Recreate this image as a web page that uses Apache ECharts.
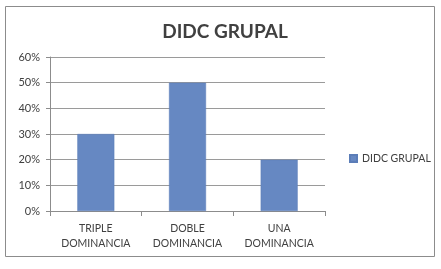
<!DOCTYPE html>
<html><head><meta charset="utf-8">
<script src="https://cdn.jsdelivr.net/npm/echarts@6/dist/echarts.min.js"></script>
<style>html,body{margin:0;padding:0;background:#fff}#c{width:441px;height:269px}</style>
</head><body><div id="c"></div>
<script>
const categories = ['TRIPLE\nDOMINANCIA', 'DOBLE\nDOMINANCIA', 'UNA\nDOMINANCIA'];
const values = [0.30, 0.50, 0.20];
const seriesName = 'DIDC GRUPAL';
const titleText = 'DIDC GRUPAL';

const chart = echarts.init(document.getElementById('c'), null, {renderer: 'canvas'});
chart.setOption({
  animation: false,
  backgroundColor: '#fff',
  graphic: [{type: 'rect', shape: {x: 5.5, y: 6.5, width: 429, height: 250}, style: {fill: 'none', stroke: '#8c8c8c', lineWidth: 1}}],
  title: {text: titleText, left: 220, top: 17, textAlign: 'center',
    textStyle: {fontFamily: 'Lato', fontWeight: 'bold', fontSize: 19, color: '#404040'}},
  legend: {data: [seriesName], left: 344, top: 148, itemWidth: 7, itemHeight: 7, itemGap: 4,
    icon: 'rect', textStyle: {fontFamily: 'Lato', fontSize: 10.5, color: '#404040'}},
  grid: {left: 50, right: 116, top: 57, bottom: 58},
  xAxis: {type: 'category', data: categories,
    axisLine: {lineStyle: {color: '#8c8c8c'}},
    axisTick: {show: true, alignWithLabel: false, length: 5, lineStyle: {color: '#8c8c8c'}},
    axisLabel: {fontFamily: 'Lato', fontSize: 10.5, color: '#404040', margin: 10, lineHeight: 15}},
  yAxis: {type: 'value', min: 0, max: 0.6, interval: 0.1,
    axisLine: {show: true, lineStyle: {color: '#8c8c8c'}},
    axisTick: {show: true, length: 4, lineStyle: {color: '#8c8c8c'}},
    splitLine: {lineStyle: {color: '#9a9a9a'}},
    axisLabel: {fontFamily: 'Lato', fontSize: 11, color: '#404040', margin: 10,
      formatter: v => Math.round(v * 100) + '%'}},
  series: [{name: seriesName, type: 'bar', data: values, barWidth: 37,
    itemStyle: {color: '#6688c2', borderColor: '#5b7db8', borderWidth: 0.5}}]
});
</script></body></html>
